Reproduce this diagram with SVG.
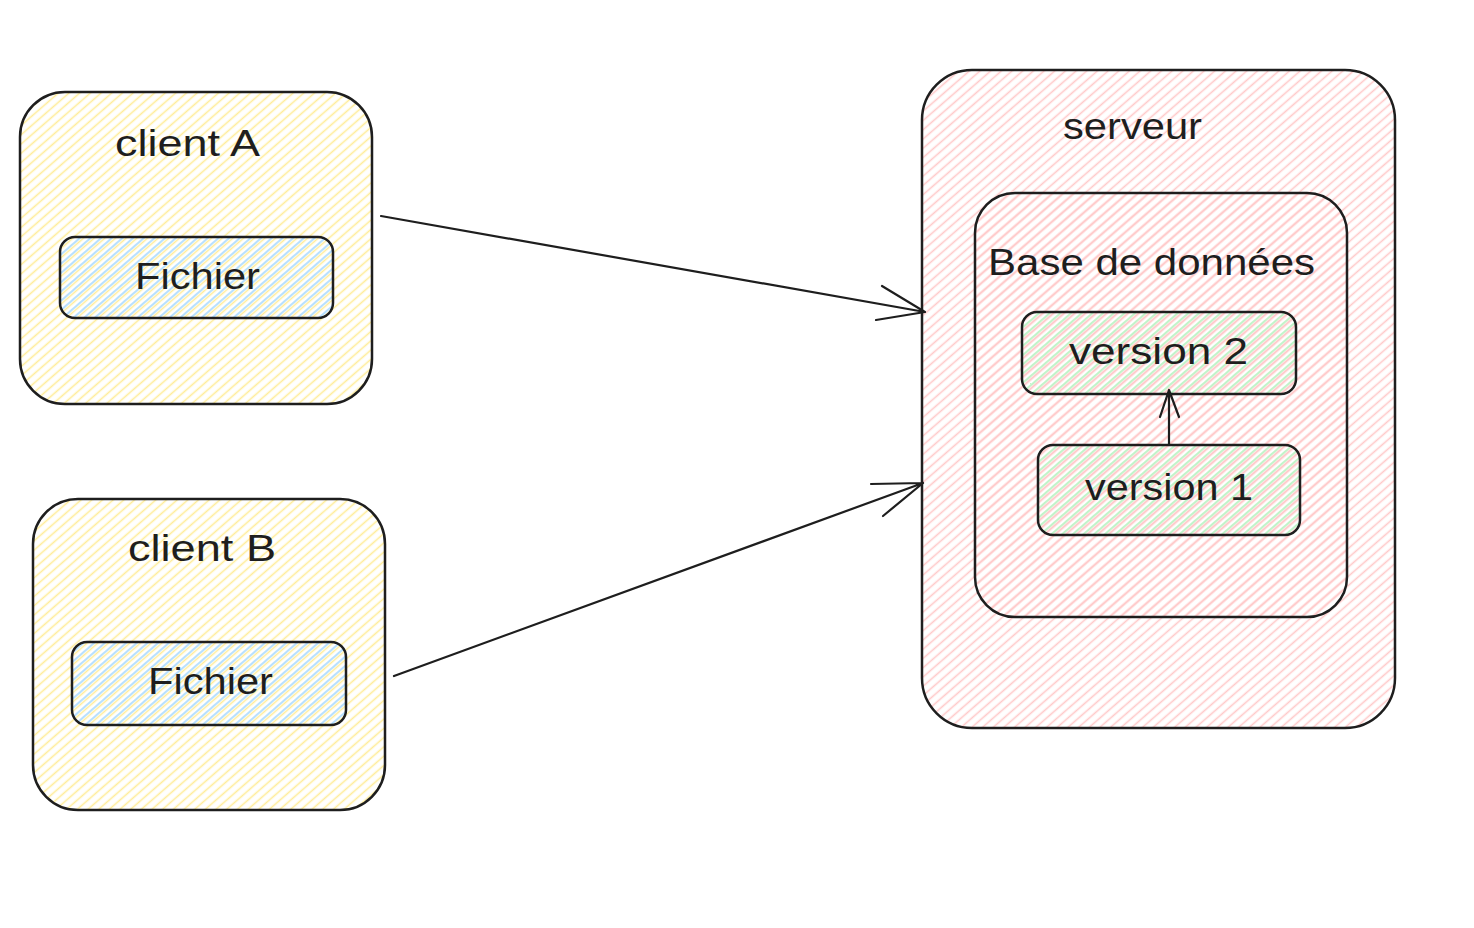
<svg xmlns="http://www.w3.org/2000/svg" width="1474" height="928" viewBox="0 0 1474 928">
<style>
.box{stroke:#1e1e1e;stroke-width:2.5;stroke-linejoin:round}
.lbl{font-family:"Liberation Sans","Noto Sans",sans-serif;fill:#1e1e1e;text-anchor:start}
.conn{fill:none;stroke:#1e1e1e;stroke-width:2.2;stroke-linecap:round;stroke-linejoin:round}
</style>
<defs>
<pattern id="hy" width="7" height="7" patternUnits="userSpaceOnUse" patternTransform="rotate(-41)"><line x1="0" y1="3.5" x2="7" y2="3.5" stroke="#ffec99" stroke-width="1.6"/></pattern>
<pattern id="hb" width="7" height="7" patternUnits="userSpaceOnUse" patternTransform="rotate(-41)"><line x1="0" y1="1" x2="7" y2="1" stroke="#a5d8ff" stroke-width="1.6"/></pattern>
<pattern id="hr" width="7" height="7" patternUnits="userSpaceOnUse" patternTransform="rotate(-41)"><line x1="0" y1="3.5" x2="7" y2="3.5" stroke="#ffc9c9" stroke-width="1.6"/></pattern>
<pattern id="hg" width="7" height="7" patternUnits="userSpaceOnUse" patternTransform="rotate(-41)"><line x1="0" y1="1" x2="7" y2="1" stroke="#b2f2bb" stroke-width="1.6"/></pattern>
</defs>
<rect width="1474" height="928" fill="#ffffff"/>
<g id="clientA">
<rect class="box" x="20" y="92" width="352" height="312" rx="45" fill="url(#hy)"/>
<text class="lbl" x="115" y="156" font-size="36" textLength="145" lengthAdjust="spacingAndGlyphs">client A</text>
</g>
<g id="fichierA">
<rect class="box" x="60" y="237" width="273" height="81" rx="15" fill="url(#hb)"/>
<text class="lbl" x="135" y="289" font-size="36" textLength="125" lengthAdjust="spacingAndGlyphs">Fichier</text>
</g>
<g id="clientB">
<rect class="box" x="33" y="499" width="352" height="311" rx="45" fill="url(#hy)"/>
<text class="lbl" x="128" y="561" font-size="36" textLength="148" lengthAdjust="spacingAndGlyphs">client B</text>
</g>
<g id="fichierB">
<rect class="box" x="72" y="642" width="274" height="83" rx="15" fill="url(#hb)"/>
<text class="lbl" x="148" y="694" font-size="36" textLength="125" lengthAdjust="spacingAndGlyphs">Fichier</text>
</g>
<g id="serveur">
<rect class="box" x="922" y="70" width="473" height="658" rx="50" fill="url(#hr)"/>
<text class="lbl" x="1063" y="139" font-size="36" textLength="139" lengthAdjust="spacingAndGlyphs">serveur</text>
</g>
<g id="base">
<rect class="box" x="975" y="193" width="372" height="424" rx="40" fill="url(#hr)"/>
<text class="lbl" x="988" y="275" font-size="36" textLength="327" lengthAdjust="spacingAndGlyphs">Base de données</text>
</g>
<g id="version2">
<rect class="box" x="1022" y="312" width="274" height="82" rx="15" fill="url(#hg)"/>
<text class="lbl" x="1069" y="364" font-size="36" textLength="179" lengthAdjust="spacingAndGlyphs">version 2</text>
</g>
<g id="version1">
<rect class="box" x="1038" y="445" width="262" height="90" rx="15" fill="url(#hg)"/>
<text class="lbl" x="1085" y="500" font-size="36" textLength="168" lengthAdjust="spacingAndGlyphs">version 1</text>
</g>
<g id="connectors">
<path class="conn" d="M381 216 L925 312 M882 286 L925 312 L876 320"/>
<path class="conn" d="M394 676 L923 483 M871 484 L923 483 L883 516"/>
<path class="conn" d="M1169 445 L1169 390 M1160 417 L1169 390 L1179 417"/>
</g>
</svg>
